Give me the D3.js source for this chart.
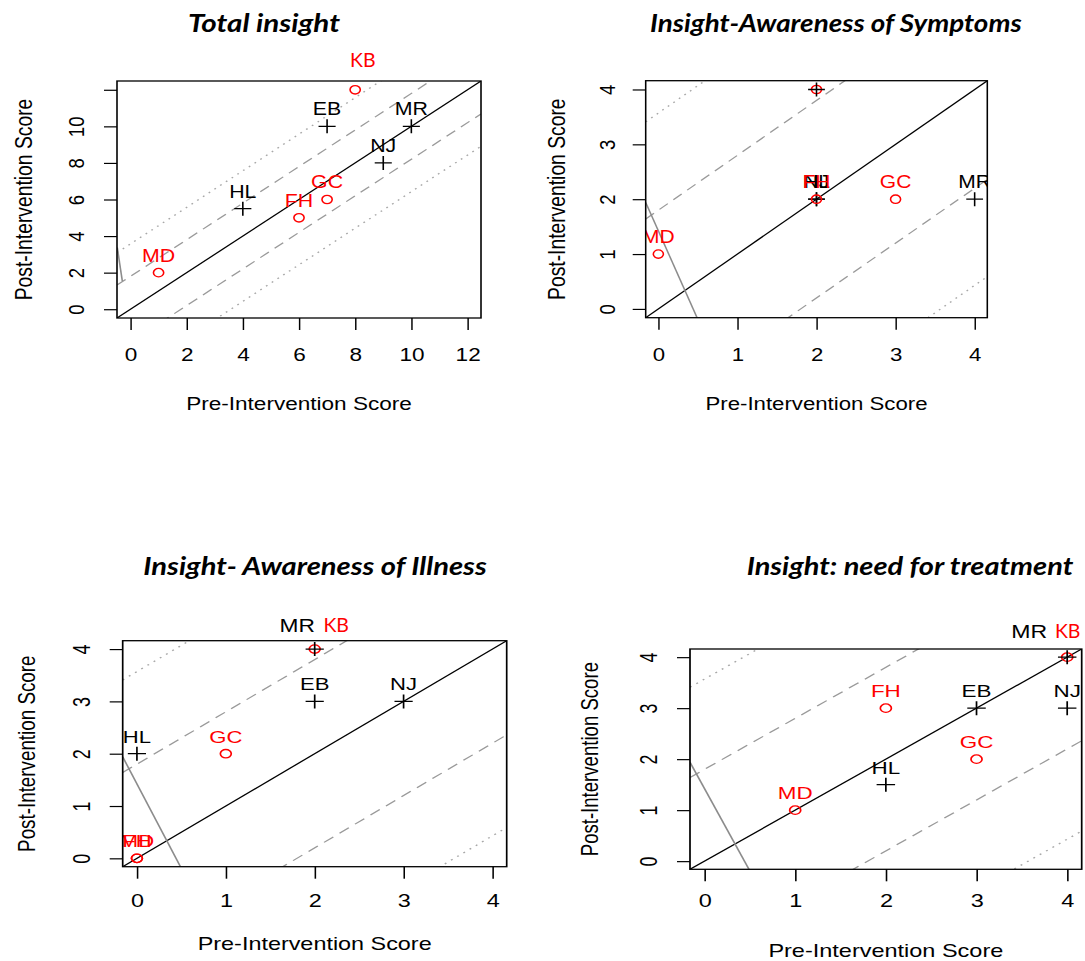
<!DOCTYPE html>
<html><head><meta charset="utf-8">
<script src="https://cdn.jsdelivr.net/npm/d3@7"></script>
<style>body{margin:0;background:#fff}</style></head>
<body>
<svg id="c" width="1085" height="961"></svg>
<script>
// ---------- data ----------
const subjects = ["KB","EB","MR","NJ","HL","GC","FH","MD"];
const markers  = ["o","+","+","+","+","o","o","o"];
const preTotal      = [8, 7, 10, 9, 4,   7, 6, 1];
const postTotal     = [12,10, 10, 8, 5.5, 6, 5, 2];
const preSymptoms   = [2, 2, 4, 2, 2, 3, 2, 0];
const postSymptoms  = [4, 4, 2, 2, 2, 2, 2, 1];
const preIllness    = [2, 2, 2, 3, 0, 1, 0, 0];
const postIllness   = [4, 3, 4, 3, 2, 2, 0, 0];
const preTreatment  = [4, 3, 4, 4, 2,   3, 2, 1];
const postTreatment = [4, 3, 4, 3, 1.5, 2, 3, 1];
const titles = ["Total insight","Insight-Awareness of Symptoms","Insight- Awareness of Illness","Insight: need for treatment"];
const xLabel = "Pre-Intervention Score";
const yLabel = "Post-Intervention Score";
const ticksTotal = [0,2,4,6,8,10,12];
const tickLabelsTotalX = ["0","2","4","6","8","10","12"];
const tickLabelsTotalY = ["0","2","4","6","8","10",""];
const ticksSub = [0,1,2,3,4];
const tickLabelsSub = ["0","1","2","3","4"];
const limitsTotal = [0,12];
const limitsSub = [0,4];
const dashedOffsets = [1.8,-1.8];
const dottedOffsets = [3.57,-3.57];
const grayTotal = [[-0.47,3.37],[-0.29,1.54]];
const graySub   = [[-0.16,1.94],[0.49,-0.16]];

// ---------- layout ----------
const panels = [
 {pre:preTotal, post:postTotal, lim:limitsTotal, ticks:ticksTotal, xtl:tickLabelsTotalX, ytl:tickLabelsTotalY, gray:grayTotal, title:titles[0],
  box:{l:117,r:481,t:81,b:318}, s:1.22, f:18.5, fl:17.5, xTickOff:43, xLabOff:92, yTickOff:33.5, yLabOff:85.3,
  tBox:{x1:188,x2:340,base:31.7}, notes:[{who:"KB",font:"cal",dx:7.6,dy:-22.6}]},
 {pre:preSymptoms, post:postSymptoms, lim:limitsSub, ticks:ticksSub, xtl:tickLabelsSub, ytl:tickLabelsSub, gray:graySub, title:titles[1],
  box:{l:645.7,r:987.3,t:80.7,b:317.7}, s:1.2, f:18.5, fl:17.5, xTickOff:43.3, xLabOff:92.3, yTickOff:30.5, yLabOff:80.7,
  tBox:{x1:650,x2:1021.7,base:31.7}, notes:[]},
 {pre:preIllness, post:postIllness, lim:limitsSub, ticks:ticksSub, xtl:tickLabelsSub, ytl:tickLabelsSub, gray:graySub, title:titles[2],
  box:{l:122.7,r:506.7,t:640.7,b:866.7}, s:1.3, f:18, fl:17, xTickOff:40.3, xLabOff:83.3, yTickOff:32.7, yLabOff:88,
  tBox:{x1:143.3,x2:486.7,base:575}, notes:[{who:"MR",font:"ari",dx:-17.5,dy:-17},{who:"KB",font:"cal",dx:21.5,dy:-17}]},
 {pre:preTreatment, post:postTreatment, lim:limitsSub, ticks:ticksSub, xtl:tickLabelsSub, ytl:tickLabelsSub, gray:graySub, title:titles[3],
  box:{l:690,r:1081.7,t:649,b:869.3}, s:1.32, f:17.8, fl:17, xTickOff:37.7, xLabOff:87.4, yTickOff:33, yLabOff:92,
  tBox:{x1:746.7,x2:1073.3,base:575}, notes:[{who:"MR",font:"ari",dx:-38,dy:-18.7},{who:"KB",font:"cal",dx:0.5,dy:-18.7}]}
];

const svg = d3.select('#c');
const ARIAL = '"Liberation Sans", Arial, sans-serif';
const RED = '#ff0000';

panels.forEach((p, pi) => {
  const {l,r,t,b} = p.box, s = p.s;
  const ext = (p.lim[1]-p.lim[0])*0.04;
  const dom = [p.lim[0]-ext, p.lim[1]+ext];
  const x = d3.scaleLinear().domain(dom).range([l/s, r/s]);
  const y = d3.scaleLinear().domain(dom).range([b, t]);
  const g = svg.append('g').attr('transform', `scale(${s},1)`);
  const clipId = 'clip'+pi;
  g.append('clipPath').attr('id', clipId).append('rect')
    .attr('x', l/s).attr('y', t).attr('width', (r-l)/s).attr('height', b-t);
  const inner = g.append('g').attr('clip-path', `url(#${clipId})`);

  const line = d3.line().x(d => x(d[0])).y(d => y(d[1]));
  dottedOffsets.forEach(c => inner.append('path')
    .attr('d', line([[dom[0], dom[0]+c],[dom[1], dom[1]+c]]))
    .attr('fill','none').attr('stroke','#a8a8a8').attr('stroke-width',1.3).attr('stroke-dasharray','1.5,4.5'));
  dashedOffsets.forEach(c => inner.append('path')
    .attr('d', line([[dom[0], dom[0]+c],[dom[1], dom[1]+c]]))
    .attr('fill','none').attr('stroke','#9a9a9a').attr('stroke-width',1.2).attr('stroke-dasharray','9,6'));
  inner.append('path').attr('d', line([[dom[0],dom[0]],[dom[1],dom[1]]]))
    .attr('fill','none').attr('stroke','#000').attr('stroke-width',1.2);
  inner.append('path').attr('d', line(p.gray))
    .attr('fill','none').attr('stroke','#8c8c8c').attr('stroke-width',1.3);

  subjects.forEach((name, i) => {
    const cx = x(p.pre[i]), cy = y(p.post[i]);
    if (markers[i] === 'o') {
      inner.append('circle').attr('cx', cx).attr('cy', cy).attr('r', 4.2)
        .attr('fill','none').attr('stroke', RED).attr('stroke-width', 1.3);
    } else {
      inner.append('path').attr('d', `M${cx-7},${cy}H${cx+7}M${cx},${cy-7}V${cy+7}`)
        .attr('stroke','#000').attr('stroke-width',1.3);
    }
  });
  // point labels (clipped to the plot region; labels wholly outside are not drawn)
  subjects.forEach((name, i) => {
    const ly = y(p.post[i]) - 11;
    if (ly < t) return;
    inner.append('text').attr('x', x(p.pre[i])).attr('y', ly)
      .attr('text-anchor','middle').attr('font-family', ARIAL).attr('font-size', p.fl)
      .attr('fill', markers[i] === 'o' ? RED : '#000').text(name);
  });

  const xAxis = d3.axisBottom(x).tickValues(p.ticks).tickFormat((d,i) => p.xtl[i]).tickSize(12).tickSizeOuter(0);
  const gx = g.append('g').attr('transform', `translate(0,${b})`).call(xAxis);
  gx.select('.domain').remove();
  gx.selectAll('.tick line').attr('stroke','#000').attr('stroke-width',1.2);
  gx.selectAll('.tick text').attr('y', p.xTickOff).attr('dy', 0)
    .attr('font-size', p.f).attr('font-family', ARIAL).attr('fill','#000');

  const yAxis = d3.axisLeft(y).tickValues(p.ticks).tickFormat((d,i) => p.ytl[i]).tickSize(13/s).tickSizeOuter(0);
  const gy = g.append('g').attr('transform', `translate(${l/s},0)`).call(yAxis);
  gy.select('.domain').remove();
  gy.selectAll('.tick line').attr('stroke','#000').attr('stroke-width',1.2);
  gy.selectAll('.tick text').attr('x', 0).attr('dy', 0)
    .attr('transform', `translate(${-p.yTickOff/s},0) rotate(-90)`)
    .attr('text-anchor','middle').attr('font-size', p.f).attr('font-family', ARIAL).attr('fill','#000');

  g.append('rect').attr('x', l/s).attr('y', t).attr('width', (r-l)/s).attr('height', b-t)
    .attr('fill','none').attr('stroke','#000').attr('stroke-width',1.3);

  g.append('text').attr('x', (l+r)/2/s).attr('y', b + p.xLabOff).attr('text-anchor','middle')
    .attr('font-family', ARIAL).attr('font-size', p.f).attr('fill','#000').text(xLabel);
  g.append('text').attr('transform', `translate(${(l - p.yLabOff)/s},${(t+b)/2}) rotate(-90)`)
    .attr('text-anchor','middle').attr('font-family', ARIAL).attr('font-size', p.f + 0.8).attr('fill','#000').text(yLabel);

  p.notes.forEach(n => {
    const i = subjects.indexOf(n.who);
    const px = x(p.pre[i]) * s, py = y(p.post[i]);
    const col = markers[i] === 'o' ? RED : '#000';
    if (n.font === 'cal') {
      svg.append('text').attr('x', px + n.dx).attr('y', py + n.dy).attr('text-anchor','middle')
        .attr('font-family','Lato, "Open Sans", sans-serif').attr('font-size', 19.5).attr('fill', col).text(n.who);
    } else {
      g.append('text').attr('x', (px + n.dx)/s).attr('y', py + n.dy).attr('text-anchor','middle')
        .attr('font-family', ARIAL).attr('font-size', p.fl + 0.5).attr('fill', col).text(n.who);
    }
  });

  svg.append('text').attr('x', p.tBox.x1).attr('y', p.tBox.base)
    .attr('font-family','Lato, "Open Sans", sans-serif').attr('font-weight','bold').attr('font-style','italic')
    .attr('font-size', 25).attr('textLength', p.tBox.x2 - p.tBox.x1).attr('lengthAdjust','spacingAndGlyphs')
    .attr('fill','#000').text(p.title);
});
</script>
</body></html>
